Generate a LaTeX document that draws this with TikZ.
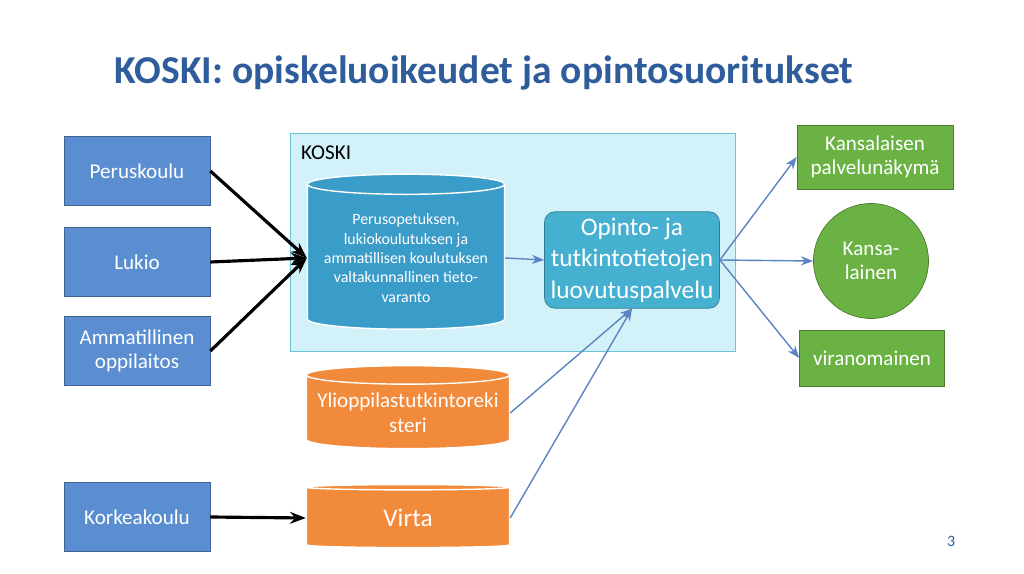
\documentclass[tikz,border=0pt]{standalone}
\usepackage{fontspec}
\setmainfont{Carlito}
\usetikzlibrary{arrows.meta,shapes.geometric}
\definecolor{titleblue}{HTML}{2F5D9B}
\definecolor{srcblue}{HTML}{5A8ED0}
\definecolor{koskifill}{HTML}{D3F1F8}
\definecolor{koskiline}{HTML}{6EC3DC}
\definecolor{cylblue}{HTML}{3A9CC8}
\definecolor{svcteal}{HTML}{45B0CF}
\definecolor{cylorange}{HTML}{F28A3C}
\definecolor{outgreen}{HTML}{6BB245}
\definecolor{linkblue}{HTML}{5B85C2}
\tikzset{
  srcbox/.style={draw=srcblue!70!black, fill=srcblue, text=white, minimum width=2.92cm, minimum height=1.38cm, align=center, font=\large},
  outbox/.style={draw=outgreen!70!black, fill=outgreen, text=white, align=center, font=\large},
  store/.style={cylinder, shape border rotate=90, aspect=0.12, draw=white, thick, text=white, align=center, inner sep=1pt},
  feed/.style={-{Stealth[length=9pt]}, line width=1.8pt, black},
  link/.style={-{Stealth[length=7pt]}, thick, linkblue}
}
\begin{document}
\begin{tikzpicture}[x=0.02cm,y=-0.02cm]
\path[fill=white] (0,0) rectangle (1024,574);
\node[text=titleblue, font=\bfseries\fontsize{22.5}{26}\selectfont] (title) at (484,73) {KOSKI: opiskeluoikeudet ja opintosuoritukset};

\node[draw=koskiline, fill=koskifill, minimum width=8.9cm, minimum height=4.36cm] (koski) at (512.5,242) {};
\node[anchor=north west, font=\large] (koskilabel) at (295,140) {KOSKI};

\begin{scope}[every node/.style={srcbox}]
    \node (perus) at (137,171) {Peruskoulu};
    \node (lukio) at (137,262) {Lukio};
    \node (ammat) at (137,351) {Ammatillinen\\oppilaitos};
    \node (korkea) at (137,517) {Korkeakoulu};
\end{scope}

\node[store, fill=cylblue, minimum width=3.94cm, minimum height=3.1cm, font=\small] (varanto) at (406,258) {Perusopetuksen,\\lukiokoulutuksen ja\\ammatillisen koulutuksen\\valtakunnallinen tieto-\\varanto};
\node[draw=svcteal!70!black, fill=svcteal, rounded corners=6pt, text=white, align=center, font=\Large, minimum width=3.5cm, minimum height=1.8cm] (luovutus) at (632,260) {Opinto- ja\\tutkintotietojen\\luovutuspalvelu};
\node[store, fill=cylorange, minimum width=4.06cm, minimum height=1.66cm, font=\large, aspect=0.1] (yo) at (408,413) {Ylioppilastutkintoreki\\steri};
\node[store, fill=cylorange, minimum width=4.06cm, minimum height=1.26cm, font=\Large, aspect=0.1] (virta) at (408,518) {Virta};

\node[outbox, minimum width=3.12cm, minimum height=1.28cm] (palvelu) at (875,157) {Kansalaisen\\palvelunäkymä};
\node[outbox, circle, minimum size=2.3cm] (kansalainen) at (871,261) {Kansa-\\lainen};
\node[outbox, minimum width=2.9cm, minimum height=1.12cm] (viran) at (872,358) {viranomainen};

\node[text=titleblue, font=\small] (page) at (951,541) {3};

\draw[feed] (perus.east) -- (varanto.west);
\draw[feed] (lukio.east) -- (varanto.west);
\draw[feed] (ammat.east) -- (varanto.west);
\draw[feed] (korkea.east) -- (virta.west);

\draw[link] (varanto.east) -- (luovutus.west);
\draw[link] (yo.east) -- (luovutus.south);
\draw[link] (virta.east) -- (luovutus.south);
\draw[link] (luovutus.east) -- (palvelu.west);
\draw[link] (luovutus.east) -- (kansalainen.west);
\draw[link] (luovutus.east) -- (viran.west);
\end{tikzpicture}
\end{document}
